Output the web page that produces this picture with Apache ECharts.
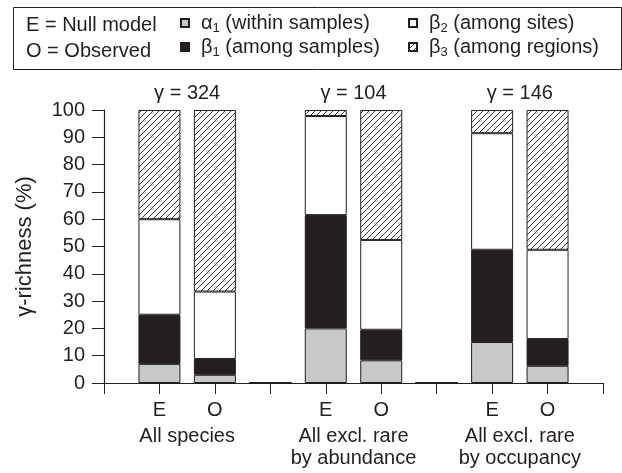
<!DOCTYPE html>
<html lang="en">
<head>
  <meta charset="UTF-8">
  <title>γ-richness partition</title>
  <script src="https://cdn.jsdelivr.net/npm/echarts@6/dist/echarts.min.js"></script>
  <style>
    html, body { margin: 0; padding: 0; background: #fff; }
  </style>
</head>
<body>
<div id="main" style="width: 622px;height:473px;"></div>
<script>
  // slots on the x axis: empty slots at both ends and between groups
  var slots = ['', 'E', 'O', '', 'E', 'O', '', 'E', 'O', ''];
  var groups = ['All species', 'All excl. rare\nby abundance', 'All excl. rare\nby occupancy'];
  var gammaLabels = ['γ = 324', 'γ = 104', 'γ = 146'];

  // share of γ-richness (%) per component, stacked bottom to top
  var alpha1 = [null, 7, 3, 0, 20, 8.3, 0, 15, 6.3, null];
  var beta1 = [null, 18, 5.8, 0, 41.5, 11.2, 0, 33.8, 9.8, null];
  var beta2 = [null, 35, 24.7, 0, 36.3, 32.9, 0, 42.7, 32.7, null];
  var beta3 = [null, 40, 66.5, 0, 2.2, 47.6, 0, 8.5, 51.2, null];

  var ink = '#231f20';
  var font = 'Liberation Sans, Arial, sans-serif';

  function hatch() {
    var c = document.createElement('canvas');
    c.width = 6;
    c.height = 6;
    var g = c.getContext('2d');
    g.fillStyle = '#fff';
    g.fillRect(0, 0, 6, 6);
    g.strokeStyle = ink;
    g.lineWidth = 0.9;
    g.beginPath();
    g.moveTo(0, 6); g.lineTo(6, 0);
    g.moveTo(-1, 1); g.lineTo(1, -1);
    g.moveTo(5, 7); g.lineTo(7, 5);
    g.stroke();
    return c;
  }

  var legendText = {
    'α1': '{sp|}{t|α}{s|1}{t| (within samples)}',
    'β1': '{sp|}{t|β}{s|1}{t| (among samples)}',
    'β2': '{sp|}{t|β}{s|2}{t| (among sites)}',
    'β3': '{sp|}{t|β}{s|3}{t| (among regions)}'
  };
  var legendRich = {
    sp: { width: 7 },
    t: { fontSize: 20, lineHeight: 24, color: ink, fontFamily: font },
    s: { fontSize: 13, lineHeight: 9, verticalAlign: 'bottom', color: ink, fontFamily: font }
  };

  function barSeries(name, data, color) {
    return {
      name: name,
      type: 'bar',
      stack: 'total',
      barWidth: 42,
      itemStyle: { color: color, borderColor: ink, borderWidth: 1 },
      emphasis: { disabled: true },
      data: data
    };
  }

  var myChart = echarts.init(document.getElementById('main'));

  var legendBase = {
    orient: 'vertical',
    top: 13,
    padding: 0,
    itemGap: 2,
    itemWidth: 8,
    itemHeight: 8,
    icon: 'rect',
    selectedMode: false,
    formatter: function (n) { return legendText[n]; },
    textStyle: { rich: legendRich }
  };

  var option = {
    animation: false,
    textStyle: { fontFamily: font, color: ink },
    grid: { left: 104, right: 19, top: 110, bottom: 90 },
    legend: [
      Object.assign({}, legendBase, { left: 180, data: ['α1', 'β1'] }),
      Object.assign({}, legendBase, { left: 408, data: ['β2', 'β3'] })
    ],
    graphic: [{
      type: 'rect',
      shape: { x: 13.5, y: 7.5, width: 608, height: 62 },
      style: { fill: 'none', stroke: ink, lineWidth: 1 },
      silent: true
    }, {
      type: 'text',
      x: 26,
      y: 25,
      style: { text: 'E = Null model', fontSize: 20, fontFamily: font, fill: ink, verticalAlign: 'middle' },
      silent: true
    }, {
      type: 'text',
      x: 26,
      y: 51,
      style: { text: 'O = Observed', fontSize: 20, fontFamily: font, fill: ink, verticalAlign: 'middle' },
      silent: true
    }],
    xAxis: [{
      type: 'category',
      data: slots,
      boundaryGap: false,
      position: 'bottom',
      axisLine: { lineStyle: { color: ink, width: 1.2 } },
      axisTick: { length: 11, interval: 0, lineStyle: { color: ink } },
      axisLabel: { interval: 0, margin: 17, fontSize: 20, color: ink }
    }, {
      type: 'category',
      data: groups,
      position: 'bottom',
      axisLine: { show: false },
      axisTick: { show: false },
      axisLabel: { interval: 0, margin: 42, fontSize: 20, lineHeight: 22, color: ink }
    }, {
      type: 'category',
      data: gammaLabels,
      position: 'top',
      axisLine: { show: false },
      axisTick: { show: false },
      axisLabel: { interval: 0, margin: 7, fontSize: 20, color: ink }
    }],
    yAxis: {
      type: 'value',
      min: 0,
      max: 100,
      interval: 10,
      name: 'γ-richness (%)',
      nameLocation: 'middle',
      nameGap: 68,
      nameTextStyle: { fontSize: 22, color: ink },
      axisLine: { show: true, lineStyle: { color: ink, width: 1.2 } },
      axisTick: { show: true, length: 12, lineStyle: { color: ink } },
      axisLabel: { margin: 19, fontSize: 20, color: ink },
      splitLine: { show: false }
    },
    series: [
      barSeries('α1', alpha1, '#c7c8ca'),
      barSeries('β1', beta1, ink),
      barSeries('β2', beta2, '#ffffff'),
      barSeries('β3', beta3, { image: hatch(), repeat: 'repeat' })
    ]
  };

  myChart.setOption(option);
</script>
</body>
</html>
